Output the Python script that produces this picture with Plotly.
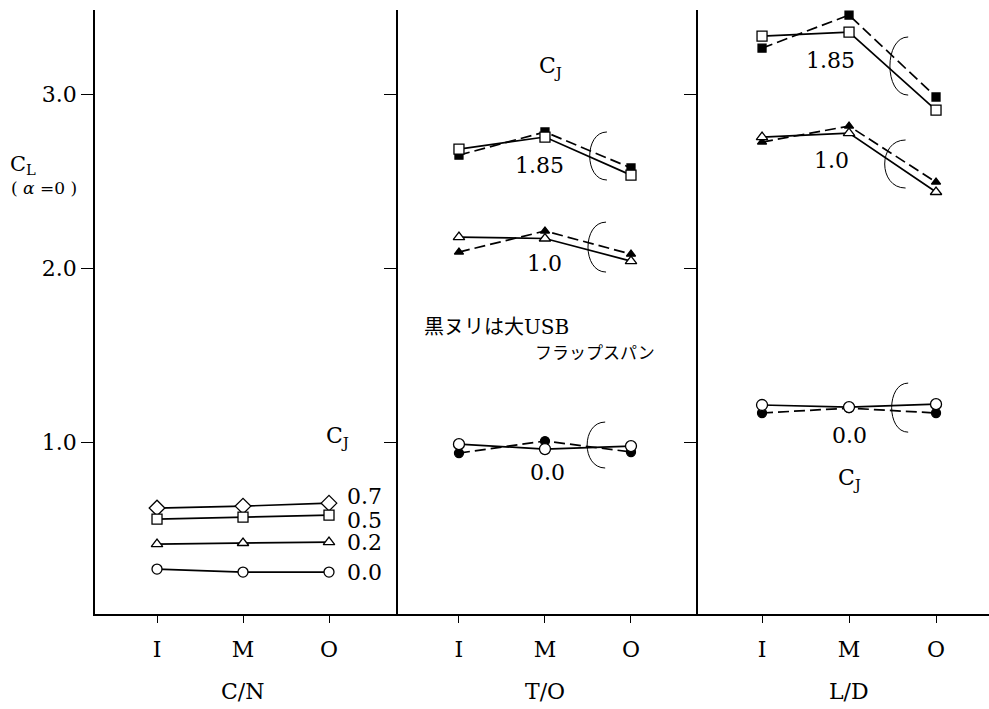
import plotly.graph_objects as go
from plotly.subplots import make_subplots

# Spanwise position of the blown-flap segment
positions = [1, 2, 3]
position_labels = ["I", "M", "O"]
panel_titles = ["C/N", "T/O", "L/D"]

# C/N panel: lift coefficient at alpha = 0 for each C_J
cn_cj_labels = ["0.7", "0.5", "0.2", "0.0"]
cn_cj_07 = [0.621, 0.632, 0.649]
cn_cj_05 = [0.557, 0.569, 0.580]
cn_cj_02 = [0.414, 0.420, 0.425]
cn_cj_00 = [0.270, 0.253, 0.253]

# T/O panel: standard flap span (open) vs. large USB flap span (filled)
to_cj_labels = ["1.85", "1.0", "0.0"]
to_185_std = [2.684, 2.753, 2.534]
to_185_big = [2.649, 2.782, 2.575]
to_10_std = [2.178, 2.170, 2.040]
to_10_big = [2.092, 2.213, 2.080]
to_00_std = [0.988, 0.960, 0.977]
to_00_big = [0.937, 1.006, 0.943]

# L/D panel
ld_cj_labels = ["1.85", "1.0", "0.0"]
ld_185_std = [3.333, 3.356, 2.908]
ld_185_big = [3.264, 3.454, 2.983]
ld_10_std = [2.753, 2.776, 2.437]
ld_10_big = [2.724, 2.816, 2.494]
ld_00_std = [1.213, 1.201, 1.218]
ld_00_big = [1.167, 1.195, 1.167]

y_tick_vals = [1.0, 2.0, 3.0]
y_tick_text = ["1.0", "2.0", "3.0"]

SERIF = "DejaVu Serif"
CJK = "Noto Sans CJK JP"
INK = "black"
TXT = 22

fig = make_subplots(rows=1, cols=3, horizontal_spacing=0.0, shared_yaxes=False)


def add_series(col, values, symbol, filled, dashed, size):
    fig.add_trace(
        go.Scatter(
            x=positions,
            y=values,
            mode="lines+markers",
            line=dict(color=INK, width=1.7, dash="11px,5px" if dashed else "solid"),
            marker=dict(
                symbol=symbol,
                size=size,
                color=INK if filled else "white",
                line=dict(color=INK, width=1.3),
            ),
            showlegend=False,
            hoverinfo="skip",
        ),
        row=1,
        col=col,
    )


# C/N
add_series(1, cn_cj_07, "diamond", False, False, 12)
add_series(1, cn_cj_05, "square", False, False, 10)
add_series(1, cn_cj_02, "triangle-up", False, False, 10)
add_series(1, cn_cj_00, "circle", False, False, 10)

# T/O
add_series(2, to_185_big, "square", True, True, 8)
add_series(2, to_185_std, "square", False, False, 10)
add_series(2, to_10_big, "triangle-up", True, True, 8)
add_series(2, to_10_std, "triangle-up", False, False, 10)
add_series(2, to_00_big, "circle", True, True, 9)
add_series(2, to_00_std, "circle", False, False, 11)

# L/D
add_series(3, ld_185_big, "square", True, True, 8)
add_series(3, ld_185_std, "square", False, False, 10)
add_series(3, ld_10_big, "triangle-up", True, True, 8)
add_series(3, ld_10_std, "triangle-up", False, False, 10)
add_series(3, ld_00_big, "circle", True, True, 9)
add_series(3, ld_00_std, "circle", False, False, 11)

# Panel geometry: left margin 95 px, plot width 894 px
domains = [[0.0, 0.3389], [0.3389, 0.6745], [0.6745, 1.0]]
x_ranges = [[0.279, 3.802], [0.291, 3.779], [0.264, 3.609]]
y_range = [0.012, 3.483]

for i in range(3):
    fig.update_xaxes(
        row=1, col=i + 1,
        domain=domains[i], range=x_ranges[i],
        tickvals=positions, ticktext=position_labels,
        showline=True, linecolor=INK, linewidth=1.6,
        ticks="outside", ticklen=7, tickcolor=INK, tickwidth=1,
        ticklabelstandoff=8,
        tickfont=dict(family=SERIF, size=TXT, color=INK),
        showgrid=False, zeroline=False, mirror=False,
    )
    fig.update_yaxes(
        row=1, col=i + 1,
        range=y_range,
        tickvals=y_tick_vals, ticktext=y_tick_text,
        showticklabels=(i == 0),
        showline=True, linecolor=INK, linewidth=1.8,
        ticks="outside", ticklen=12, tickcolor=INK, tickwidth=1,
        tickfont=dict(family=SERIF, size=TXT, color=INK),
        showgrid=False, zeroline=False, mirror=False,
    )

annotations = []


def label(xref, yref, x, y, text, size=TXT, xanchor="center", family=SERIF):
    annotations.append(dict(
        xref=xref, yref=yref, x=x, y=y, text=text, showarrow=False,
        xanchor=xanchor, yanchor="middle",
        font=dict(family=family, size=size, color=INK),
    ))


# Axis titles below each panel
for i, t in enumerate(panel_titles):
    axis = "x" if i == 0 else f"x{i + 1}"
    label(axis, "paper", 2, -0.1275, t)

# Y axis title
label("paper", "paper", -0.0805, 0.7434, "C<sub>L</sub>", size=21)
label("paper", "paper", -0.057, 0.705, "( <i>α</i> =0 )", size=17)

# C/N curve labels
cn_label_y = [0.690, 0.548, 0.425, 0.253]
for txt, yy in zip(cn_cj_labels, cn_label_y):
    label("x", "y", 3.19, yy, txt, xanchor="left")
label("x", "y", 3.10, 1.029, "C<sub>J</sub>")

# T/O curve labels
for txt, (xx, yy) in zip(to_cj_labels, [(1.94, 2.592), (1.99, 2.029), (2.03, 0.828)]):
    label("x2", "y2", xx, yy, txt)
label("x2", "y2", 2.06, 3.155, "C<sub>J</sub>")
label("x2", "y2", 0.57, 1.672,
      "黒ヌリは大<span style='font-family:DejaVu Serif'>USB</span>",
      size=20, xanchor="left", family=CJK)
label("x2", "y2", 1.86, 1.52, "フラップスパン", size=17, xanchor="left", family=CJK)

# L/D curve labels
for txt, (xx, yy) in zip(ld_cj_labels, [(1.79, 3.195), (1.80, 2.621), (2.01, 1.04)]):
    label("x3", "y3", xx, yy, txt)
label("x3", "y3", 2.0, 0.787, "C<sub>J</sub>")

# Brackets grouping each open/filled pair: (axis, right x, leftmost x, top y, bottom y)
brackets = [
    ("2", 2.72, 2.52, 2.782, 2.506),
    ("2", 2.71, 2.50, 2.264, 1.977),
    ("2", 2.70, 2.49, 1.115, 0.851),
    ("3", 2.68, 2.47, 3.328, 2.994),
    ("3", 2.65, 2.41, 2.736, 2.460),
    ("3", 2.68, 2.49, 1.339, 1.057),
]
shapes = []
for ax, xr, xl, yt, yb in brackets:
    xc = (xl - 0.25 * xr) / 0.75
    path = f"M {xr},{yt} C {xc},{yt} {xc},{yb} {xr},{yb}"
    shapes.append(dict(type="path", xref=f"x{ax}", yref=f"y{ax}", path=path,
                       line=dict(color=INK, width=1)))

fig.update_layout(
    width=989, height=709,
    margin=dict(l=95, r=0, t=10, b=95),
    paper_bgcolor="white", plot_bgcolor="white",
    annotations=annotations,
    shapes=shapes,
    showlegend=False,
)

fig.write_html("out.html")
